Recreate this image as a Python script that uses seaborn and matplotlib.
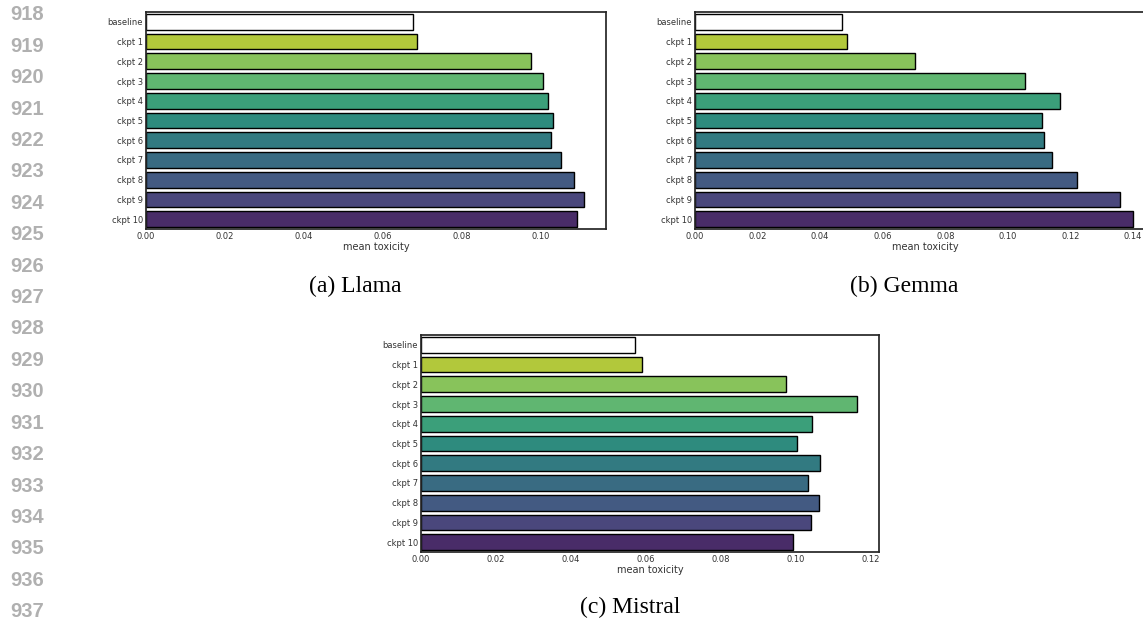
import matplotlib
matplotlib.use("Agg")
import matplotlib.pyplot as plt
import seaborn as sns

categories = ["baseline", "ckpt 1", "ckpt 2", "ckpt 3", "ckpt 4", "ckpt 5",
              "ckpt 6", "ckpt 7", "ckpt 8", "ckpt 9", "ckpt 10"]
llama = [0.0678, 0.0688, 0.0977, 0.1008, 0.1019, 0.1031, 0.1028, 0.1053, 0.1085, 0.1111, 0.1094]
gemma = [0.0471, 0.0485, 0.0703, 0.1055, 0.1165, 0.1108, 0.1116, 0.1140, 0.1221, 0.1358, 0.1400]
mistral = [0.0571, 0.0591, 0.0975, 0.1164, 0.1043, 0.1003, 0.1066, 0.1033, 0.1063, 0.1042, 0.0992]
captions = ["(a) Llama", "(b) Gemma", "(c) Mistral"]
line_numbers = list(range(918, 938))

sns.set_theme(style="white")
plt.rcParams["font.family"] = ["DejaVu Sans"]

W, H = 1143, 623
fig = plt.figure(figsize=(W / 100, H / 100), dpi=100)
fig.patch.set_facecolor("white")

palette = ["white"] + list(sns.color_palette("viridis", 10))[::-1]

def px_axes(left, top, right, bottom):
    return fig.add_axes([left / W, 1 - bottom / H, (right - left) / W, (bottom - top) / H])

panels = [
    (llama, (146, 12, 606, 229)),
    (gemma, (695, 12, 1155, 229)),
    (mistral, (421, 335, 879, 552)),
]

for vals, box in panels:
    ax = px_axes(*box)
    sns.barplot(x=vals, y=categories, hue=categories, palette=palette, legend=False,
                edgecolor="black", linewidth=1.0, ax=ax)
    ax.set_xlabel("mean toxicity", fontsize=7, labelpad=1, color=".2")
    ax.set_ylabel("")
    ax.tick_params(axis="both", labelsize=6, pad=2, colors=".2", length=0)
    for s in ax.spines.values():
        s.set_color(".15")
        s.set_linewidth(1.25)

cap_pos = [(355, 286), (904, 286), (630, 607)]
for txt, (cx, cy) in zip(captions, cap_pos):
    fig.text(cx / W, 1 - cy / H, txt, ha="center", va="center",
             fontsize=17, family="Liberation Serif", color="black")

for i, n in enumerate(line_numbers):
    y = 15 + 31.4 * i
    fig.text(10 / W, 1 - y / H, str(n), ha="left", va="center",
             fontsize=14.5, family="Liberation Sans", weight="bold", color="#b0b0b0")

fig.savefig("out.png", dpi=100)
